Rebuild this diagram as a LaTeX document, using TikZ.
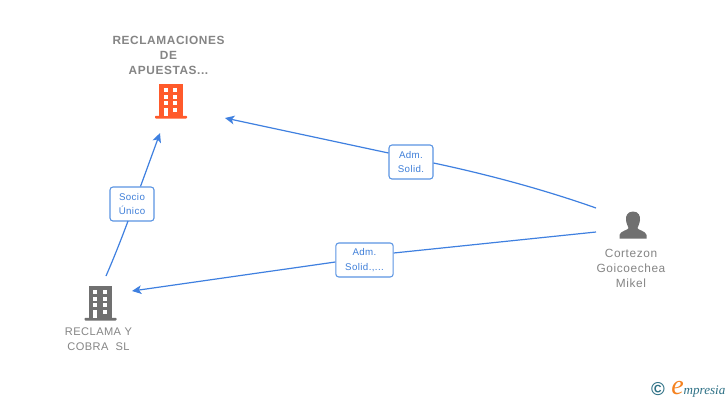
\documentclass[tikz,border=0pt]{standalone}
\usepackage{fontspec}
\setmainfont{Liberation Sans}
\newfontfamily\logofont{Liberation Serif}
\newfontfamily\spaced[LetterSpace=4]{Liberation Sans}
\newfontfamily\spacedp[LetterSpace=5]{Liberation Sans}
\newfontfamily\spacedb[LetterSpace=5]{Liberation Sans Bold}
\newfontfamily\spacedl[LetterSpace=4]{Liberation Sans}
\usetikzlibrary{arrows.meta}
\definecolor{edgeblue}{HTML}{3F80E0}
\definecolor{boxblue}{HTML}{5B95E3}
\definecolor{labelblue}{HTML}{3F7FD9}
\definecolor{orangeicon}{HTML}{FF5A2B}
\definecolor{greyicon}{HTML}{707070}
\definecolor{greytext}{HTML}{858585}
\definecolor{logoteal}{HTML}{2E7186}
\definecolor{logoorange}{HTML}{F58220}
\tikzset{
  x=0.75pt,y=-0.75pt,
  edge/.style={draw=edgeblue,line width=0.9pt},
  arrowedge/.style={edge,-{Stealth[length=7pt,width=6.5pt,inset=1.8pt]}},
  linkbox/.style={draw=boxblue,line width=0.8pt,rounded corners=2.2pt,fill=white,inner sep=0pt,
    align=center,text=labelblue,font=\spacedl\fontsize{7.3pt}{11.2pt}\selectfont},
  iconbox/.style={inner sep=0pt,minimum width=24pt,minimum height=25pt},
  caption/.style={inner sep=0pt,align=center,text=greytext,font=\spaced\fontsize{8.3pt}{11.25pt}\selectfont},
  captionp/.style={inner sep=0pt,align=center,text=greytext,font=\spacedp\fontsize{8.9pt}{11.25pt}\selectfont},
  captionb/.style={inner sep=0pt,align=center,text=greytext,font=\spacedb\fontsize{8.9pt}{11.25pt}\selectfont},
  pics/building/.style={code={
    \fill[#1] (-12,-17) rectangle (11.5,15);
    \fill[#1,rounded corners=0.6pt] (-16,14.8) rectangle (16,17.5);
    \foreach \wy in {-13,-6.5,0}{
      \fill[white] (-7.5,\wy) rectangle (-3.5,\wy+4);
      \fill[white] (2,\wy) rectangle (6,\wy+4);
    }
    \fill[white] (-7.5,6.5) rectangle (-3.5,15);
    \fill[white] (2,6.5) rectangle (6,10.5);
  }},
}
\begin{document}
\begin{tikzpicture}
\useasboundingbox (0,0) rectangle (728,400);
\fill[white] (0,0) rectangle (728,400);

% icons
\node[iconbox] (main) at (171,101) {};
\pic at (main.center) {building=orangeicon};
\node[iconbox] (sub) at (100.5,303) {};
\pic at (sub.center) {building=greyicon};
\node[iconbox] (person) at (633,225) {};
\fill[greyicon] (633,211.5) .. controls (627.5,211.5) and (625.5,216) .. (626,220)
  .. controls (626.4,224) and (628,226) .. (628.5,228)
  .. controls (628.5,230) and (620,231) .. (619.5,235)
  -- (619.5,238.5) -- (646.5,238.5) -- (646.5,235)
  .. controls (646,231) and (637.5,230) .. (637.5,228)
  .. controls (638,226) and (639.6,224) .. (640,220)
  .. controls (640.5,216) and (638.5,211.5) .. (633,211.5) -- cycle;

% captions
\node[captionb] (maincap) at (168.5,55) {RECLAMACIONES\\DE\\APUESTAS...};
\node[caption] (subcap) at (98.5,339.5) {RECLAMA Y\\COBRA\ \ SL};
\node[captionp] (personcap) at (631,268) {Cortezon\\Goicoechea\\Mikel};

% connector ends
\coordinate (e1s) at (596,208);
\coordinate (e1t) at (225,118);
\coordinate (e2s) at (596,232);
\coordinate (e2t) at (132,291);
\coordinate (e3s) at (106,276);
\coordinate (e3t) at (160,133);

% labels
\node[linkbox,minimum width=33pt,minimum height=25.5pt] (l1) at (411,162) {Adm.\\Solid.};
\node[linkbox,minimum width=43pt,minimum height=25.5pt] (l2) at (364.5,260) {Adm.\\Solid.,...};
\node[linkbox,minimum width=33pt,minimum height=25.5pt] (l3) at (132,204) {Socio\\Único};

% connectors
\draw[edge] (e1s) .. controls (545,190) and (490,175) .. (l1.east|-0,163);
\draw[arrowedge] (l1.west|-0,153) -- (e1t);
\draw[edge] (e2s) -- (l2.east|-0,253);
\draw[arrowedge] (l2.west|-0,262) -- (e2t);
\draw[edge] (e3s) .. controls (113,260) and (121,240) .. (128,221);
\draw[arrowedge] (l3.north-|140.5,0) -- (e3t);

% logo
\node[inner sep=0pt,text=logoteal,font=\bfseries\fontsize{14pt}{15pt}\selectfont] (copyr) at (658,389) {©};
\node[inner sep=0pt,anchor=base west,text=logoteal,font=\logofont\itshape\fontsize{9.8pt}{12pt}\selectfont] (brand) at (671,394)
  {{\color{logoorange}\fontsize{21pt}{12pt}\selectfont e}mpresia};
\end{tikzpicture}
\end{document}
